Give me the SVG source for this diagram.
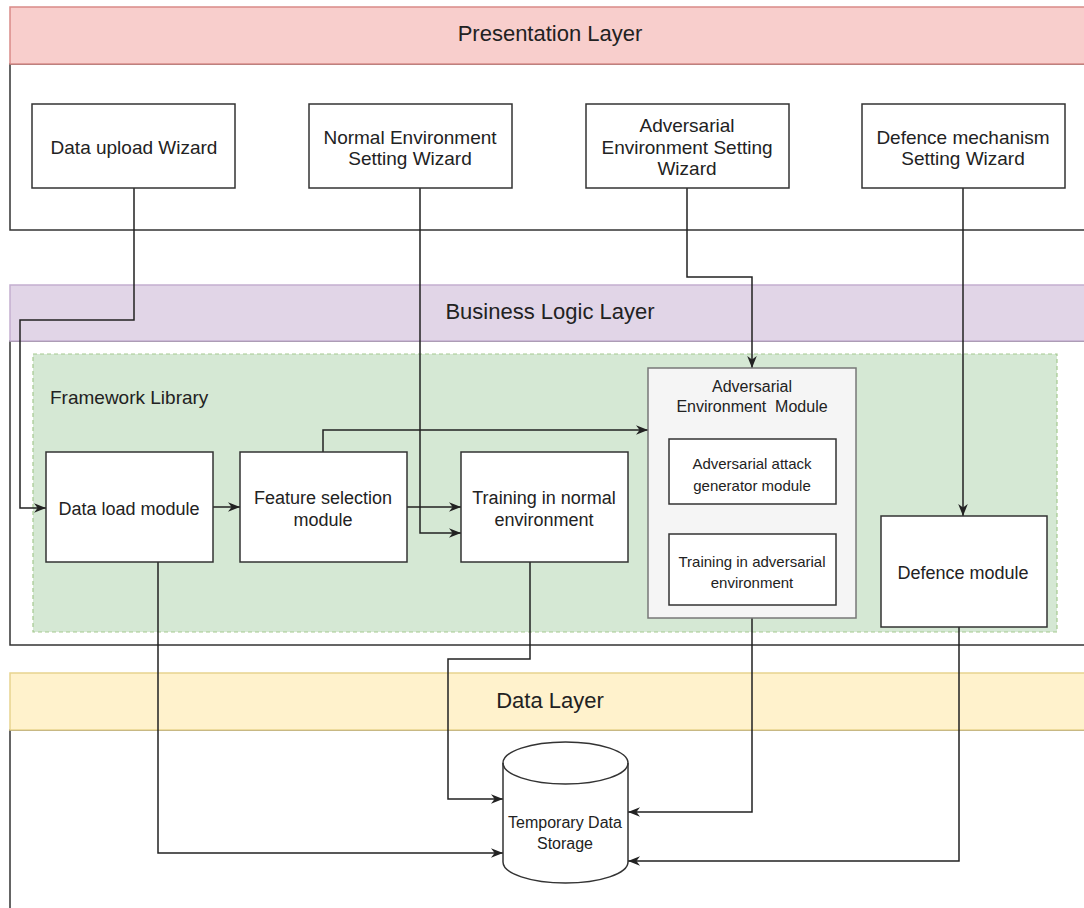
<svg xmlns="http://www.w3.org/2000/svg" width="1084" height="908" viewBox="0 0 1084 908">
<defs>
<style>
text{font-family:"Liberation Sans",Arial,Helvetica,sans-serif;fill:#222;text-anchor:middle}
.layer{font-size:22px}
.wiz{font-size:19px}
.mod{font-size:18px}
.small{font-size:15px}
.box{fill:#fff;stroke:#333;stroke-width:1.5}
.body{fill:#fff;stroke:#333;stroke-width:1.5}
.conn{fill:none;stroke:#222;stroke-width:1.5}
</style>
<marker id="arr" viewBox="0 0 10 10" refX="10" refY="5" markerWidth="12" markerHeight="12" markerUnits="userSpaceOnUse" orient="auto">
<path d="M0,1 L10,5 L0,9 L3,5 Z" fill="#222"/>
</marker>
</defs>
<rect width="1084" height="908" fill="#fff"/>

<g id="presentation-layer">
<rect class="body" x="10" y="64" width="1100" height="166"/>
<rect x="10" y="7" width="1100" height="57" fill="#f8cecc" stroke="#d98b88" stroke-width="1.5"/>
<text class="layer" x="550" y="41">Presentation Layer</text>
</g>

<g id="business-layer">
<rect class="body" x="10" y="341" width="1100" height="304"/>
<rect x="10" y="285" width="1100" height="56" fill="#e1d5e7" stroke="#c3aed0" stroke-width="1.5"/>
<text class="layer" x="550" y="319">Business Logic Layer</text>
</g>

<g id="data-layer">
<rect class="body" x="10" y="730" width="1100" height="250"/>
<rect x="10" y="673" width="1100" height="57" fill="#fff2cc" stroke="#e8d48e" stroke-width="1.5"/>
<text class="layer" x="550" y="708">Data Layer</text>
</g>

<g id="framework-library">
<rect x="33" y="354" width="1024" height="278" fill="#d5e8d4" stroke="#a5c98f" stroke-width="1.2" stroke-dasharray="4 3"/>
<text class="wiz" x="50" y="404" style="text-anchor:start">Framework Library</text>
</g>

<g id="connectors">
<path class="conn" d="M134,188 V320 H20 V508 H46" marker-end="url(#arr)"/>
<path class="conn" d="M213,507 H240" marker-end="url(#arr)"/>
<path class="conn" d="M407,507 H461" marker-end="url(#arr)"/>
<path class="conn" d="M420,188 V533 H461" marker-end="url(#arr)"/>
<path class="conn" d="M323,452 V430 H648" marker-end="url(#arr)"/>
<path class="conn" d="M687,188 V277 H752 V368" marker-end="url(#arr)"/>
<path class="conn" d="M963,188 V516" marker-end="url(#arr)"/>
<path class="conn" d="M158,562 V853 H503" marker-end="url(#arr)"/>
<path class="conn" d="M530,562 V659 H448 V799 H503" marker-end="url(#arr)"/>
<path class="conn" d="M752,618 V812 H628" marker-end="url(#arr)"/>
<path class="conn" d="M959,627 V861 H628" marker-end="url(#arr)"/>
</g>

<g id="data-upload-wizard">
<rect class="box" x="32" y="104" width="203" height="84"/>
<text class="wiz" x="134" y="154">Data upload Wizard</text>
</g>

<g id="normal-env-wizard">
<rect class="box" x="309" y="104" width="203" height="84"/>
<text class="wiz" x="410" y="144">Normal Environment</text>
<text class="wiz" x="410" y="165">Setting Wizard</text>
</g>

<g id="adversarial-env-wizard">
<rect class="box" x="586" y="104" width="203" height="84"/>
<text class="wiz" x="687" y="132">Adversarial</text>
<text class="wiz" x="687" y="154">Environment Setting</text>
<text class="wiz" x="687" y="175">Wizard</text>
</g>

<g id="defence-wizard">
<rect class="box" x="862" y="104" width="203" height="84"/>
<text class="wiz" x="963" y="144">Defence mechanism</text>
<text class="wiz" x="963" y="165">Setting Wizard</text>
</g>

<g id="data-load-module">
<rect class="box" x="46" y="452" width="167" height="110"/>
<text class="mod" x="129" y="515">Data load module</text>
</g>

<g id="feature-selection-module">
<rect class="box" x="240" y="452" width="167" height="110"/>
<text class="mod" x="323" y="504">Feature selection</text>
<text class="mod" x="323" y="526">module</text>
</g>

<g id="training-normal">
<rect class="box" x="461" y="452" width="167" height="110"/>
<text class="mod" x="544" y="504">Training in normal</text>
<text class="mod" x="544" y="526">environment</text>
</g>

<g id="adversarial-env-module">
<rect x="648" y="368" width="208" height="250" fill="#f5f5f5" stroke="#777" stroke-width="1.5"/>
<text x="752" y="392" style="font-size:16px">Adversarial</text>
<text x="752" y="412" style="font-size:16px;white-space:pre">Environment  Module</text>
</g>

<g id="attack-generator-module">
<rect class="box" x="669" y="439" width="167" height="65"/>
<text class="small" x="752" y="469">Adversarial attack</text>
<text class="small" x="752" y="491">generator module</text>
</g>

<g id="training-adversarial">
<rect class="box" x="669" y="534" width="167" height="71"/>
<text class="small" x="752" y="567">Training in adversarial</text>
<text class="small" x="752" y="588">environment</text>
</g>

<g id="defence-module">
<rect class="box" x="881" y="516" width="166" height="111"/>
<text class="mod" x="963" y="579">Defence module</text>
</g>

<g id="temporary-data-storage">
<path d="M503,763 A62.5,21 0 0 1 628,763 V862 A62.5,21 0 0 1 503,862 Z" fill="#fff" stroke="#333" stroke-width="1.5"/>
<path d="M503,763 A62.5,21 0 0 0 628,763" fill="none" stroke="#333" stroke-width="1.5"/>
<text x="565" y="828" style="font-size:16px">Temporary Data</text>
<text x="565" y="849" style="font-size:16px">Storage</text>
</g>
</svg>
